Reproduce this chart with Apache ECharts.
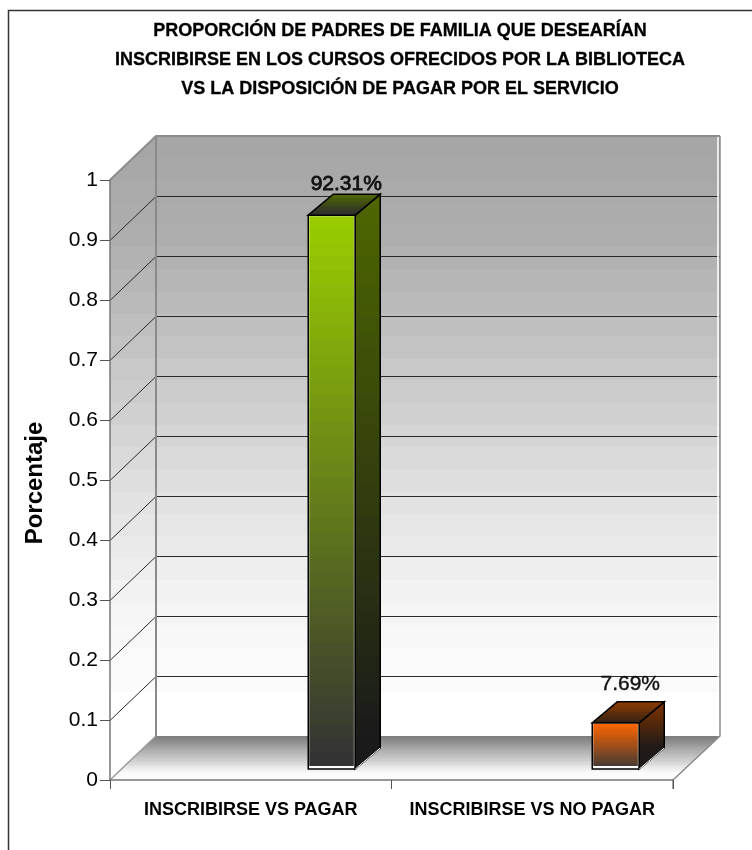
<!DOCTYPE html>
<html>
<head>
<meta charset="utf-8">
<style>html,body{margin:0;padding:0;background:#fff}#c{width:752px;height:850px}</style>
<script src="https://cdn.jsdelivr.net/npm/echarts@6/dist/echarts.min.js"></script>
</head>
<body>
<div id="c"></div>
<script>
const titleLines = [
  'PROPORCIÓN DE PADRES DE FAMILIA QUE DESEARÍAN',
  'INSCRIBIRSE EN LOS CURSOS OFRECIDOS POR LA BIBLIOTECA',
  'VS LA DISPOSICIÓN DE PAGAR POR EL SERVICIO'
];
const categories = ['INSCRIBIRSE VS PAGAR', 'INSCRIBIRSE VS NO PAGAR'];
const values = [0.9231, 0.0769];
const valueLabels = ['92.31%', '7.69%'];
const gridTicks = [0.1, 0.2, 0.3, 0.4, 0.5, 0.6, 0.7, 0.8, 0.9];
const yAxisName = 'Porcentaje';

// styling
const DX = 46, DXR = 47, DY = 44;
const wallBands = ['#a6a6a6','#a8a8a8','#aaaaaa','#acacac','#aeaeae','#b2b2b2','#b6b6b6','#bababa','#bfbfbf','#c3c3c3','#c8c8c8','#cccccc','#d0d0d0','#d5d5d5','#dadada','#dedede','#e2e2e2','#e6e6e6','#eaeaea','#eeeeee','#f2f2f2','#f5f5f5','#f8f8f8','#fafafa','#fafafa','#ffffff','#ffffff'];
const barStyles = [
  {front:['#99cc00','#333333'], side:['#4d6600','#1a1a1a'], top:['#4d6600','#2e2e2e'], lift:31, bx:57.5, lw:0.8},
  {front:['#ff6600','#4a3a32'], side:['#803300','#1f1a18'], top:['#8a3a00','#3a2414'], lift:39, bx:60, lw:0.4}
];
function hex(c){return [1,3,5].map(i=>parseInt(c.substr(i,2),16));}
function bands(c1,c2,n){
  const a=hex(c1),b=hex(c2),stops=[];
  for(let i=0;i<n;i++){
    const t=i/(n-1);
    const col='rgb('+a.map((v,k)=>Math.round(v+(b[k]-v)*t)).join(',')+')';
    stops.push({offset:i/n,color:col},{offset:(i+1)/n,color:col});
  }
  return stops;
}
function hardStops(list){
  const s=[];list.forEach((c,i)=>{s.push({offset:i/list.length,color:c},{offset:(i+1)/list.length,color:c});});return s;
}
function vGrad(y1,y2,stops){return {type:'linear',x:0,y:y1,x2:0,y2:y2,global:true,colorStops:stops};}
function poly(points,fill,stroke,lw){
  return {type:'polygon',shape:{points},style:{fill:fill,stroke:stroke||null,lineWidth:lw||0}};
}
function line(points,stroke,lw){
  return {type:'polyline',shape:{points},style:{fill:null,stroke,lineWidth:lw||1}};
}

function renderWalls(params,api){
  const cs=params.coordSys, xl=cs.x, xr=cs.x+cs.width;
  const y1=api.coord([0,1])[1], y0=api.coord([0,0])[1];
  const wall=vGrad(y1-DY,y0-DY,hardStops(wallBands));
  const kids=[
    poly([[xl,y1],[xl+DX,y1-DY],[xl+DX,y0-DY],[xl,y0]],wall),
    poly([[xl+DX,y1-DY],[xr+DXR,y1-DY],[xr+DXR,y0-DY],[xl+DX,y0-DY]],wall),
    poly([[xl,y0],[xl+DX,y0-DY],[xr+DXR,y0-DY],[xr,y0]],
      vGrad(y0-DY,y0-6,bands('#7f7f7f','#fbfbfb',20)))
  ];
  gridTicks.forEach(v=>{
    const y=Math.round(api.coord([0,v])[1])+0.5;
    kids.push(line([[xl,y],[xl+DX,y-DY],[xr+DXR,y-DY]],'#2a2a2a',1));
  });
  kids.push(line([[xl+DX,y0-DY],[xl+DX,y1-DY]],'#8a8a8a',2));
  kids.push(line([[xl,y1],[xl+DX,y1-DY],[xr+DXR,y1-DY]],'#8c8c8c',2));
  kids.push(line([[xr+DXR-2,y1-DY+1],[xr+DXR-2,y0-DY-1]],'#ffffff',1.5));
  kids.push(line([[xr+DXR,y1-DY],[xr+DXR,y0-DY],[xr,y0],[xr,y0+9]],'#8a8a8a',1.5));
  kids.push(line([[xl,y0],[xl+DX,y0-DY]],'#9a9a9a',1.5));
  return {type:'group',children:kids};
}

function renderBar(params,api){
  const i=api.value(0), v=api.value(1), s=barStyles[i];
  const base=api.coord([i,0]), tip=api.coord([i,v]);
  const W=47, D=25, H=21, BY=11, STRIP=3;
  const L=base[0]+s.bx, R=L+W, yb=base[1]-BY, yt=tip[1]-BY;
  return {type:'group',children:[
    poly([[L,yb],[R,yb],[R,yt],[L,yt]],'#ffffff','#000',1.5),
    poly([[L+1,yb-STRIP],[R-1,yb-STRIP],[R-1,yt+1],[L+1,yt+1]],vGrad(yt,yb-STRIP,bands(s.front[0],s.front[1],40))),
    line([[R-1,yt+2],[R-1,yb-STRIP]],'#b5b5a5',1),
    poly([[R,yb],[R+D,yb-H],[R+D,yt-H],[R,yt]],vGrad(yt-H,yb-H,bands(s.side[0],s.side[1],36)),'#000',1.5),
    poly([[L,yt],[L+D,yt-H],[R+D,yt-H],[R,yt]],vGrad(yt-H,yt,bands(s.top[0],s.top[1],8)),'#000',1.5),
    line([[R,yb],[R+D,yb-H]],'#ffffff',1),
    {type:'text',x:L+W/2+14.5,y:yt-s.lift,style:{text:valueLabels[i],fill:'#111',font:'21px "Liberation Sans"',
      align:'center',verticalAlign:'middle',stroke:'#111',lineWidth:s.lw}}
  ]};
}

const chart=echarts.init(document.getElementById('c'),null,{renderer:'canvas'});
chart.setOption({
  animation:false,
  backgroundColor:'#fff',
  title:{
    text:titleLines.join('\n'),left:400,top:17,padding:0,textAlign:'center',
    textStyle:{fontFamily:'"Liberation Sans"',fontWeight:'bold',fontSize:18,lineHeight:29,color:'#000',textBorderColor:'#000',textBorderWidth:0.3}
  },
  graphic:[{type:'polyline',silent:true,shape:{points:[[8.5,850],[8.5,10.5],[752,10.5]]},style:{fill:null,stroke:'#333',lineWidth:1.5}}],
  grid:{left:110,top:180,width:563,height:600},
  xAxis:{type:'category',data:categories,z:2,
    axisLine:{lineStyle:{color:'#777',width:1.5}},
    axisTick:{show:true,alignWithLabel:false,length:9,lineStyle:{color:'#555'}},
    axisLabel:{margin:21,interval:0,color:'#000',fontFamily:'"Liberation Sans"',fontWeight:'bold',fontSize:18},
    splitLine:{show:false}},
  yAxis:{type:'value',min:0,max:1,interval:0.1,z:2,
    name:yAxisName,nameLocation:'middle',nameGap:63,nameRotate:90,
    nameTextStyle:{color:'#000',fontFamily:'"Liberation Sans"',fontWeight:'bold',fontSize:24,padding:[0,6,0,0]},
    axisLine:{show:true,lineStyle:{color:'#777',width:1.5}},
    axisTick:{show:true,length:10,lineStyle:{color:'#555'}},
    axisLabel:{margin:12,color:'#000',fontFamily:'"Liberation Sans"',fontSize:21},
    splitLine:{show:false}},
  series:[
    {type:'custom',z:1,silent:true,clip:false,renderItem:renderWalls,data:[[0,0]],encode:{x:0,y:1}},
    {type:'custom',z:3,silent:true,clip:false,renderItem:renderBar,data:values.map((v,i)=>[i,v]),encode:{x:0,y:1}}
  ]
});
</script>
</body>
</html>
